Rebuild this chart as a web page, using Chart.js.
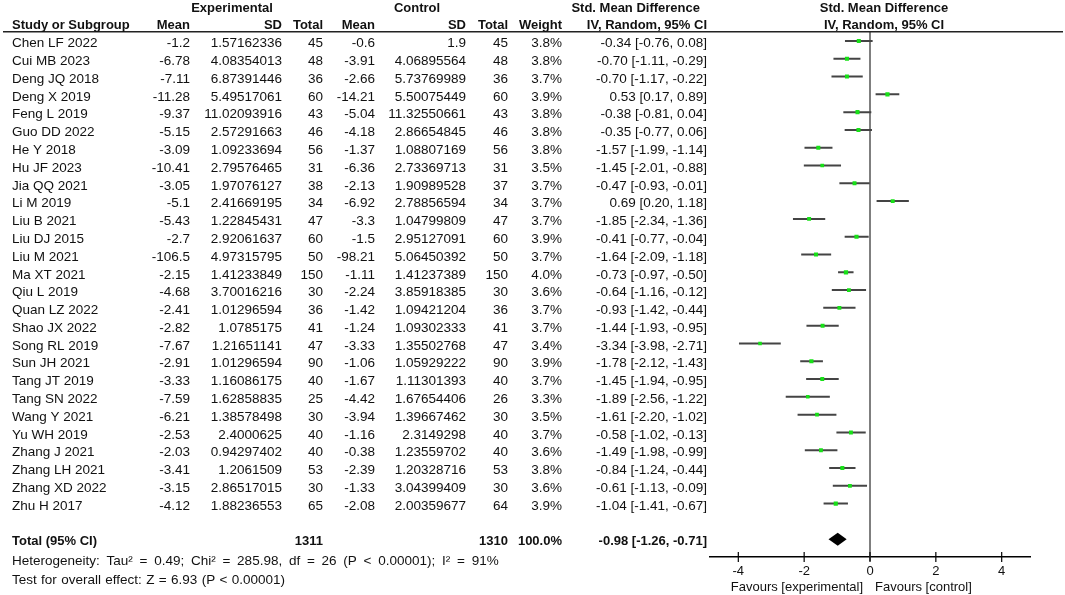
<!DOCTYPE html>
<html lang="en">
<head>
    <meta charset="UTF-8" />
    <title>Forest Plot</title>
    <script src="https://cdn.jsdelivr.net/npm/chart.js"></script>
    <style>
        body {
          margin: 0;
          background: #fff;
        }
        #wrap {
          width: 1065px;
          height: 595px;
        }
    </style>
</head>
<body>

<div id="wrap">
    <canvas id="forest" width="1065" height="595"></canvas>
</div>

<script>
    const studies = ['Chen LF 2022', 'Cui MB 2023', 'Deng JQ 2018', 'Deng X 2019', 'Feng L 2019', 'Guo DD 2022',
      'He Y 2018', 'Hu JF 2023', 'Jia QQ 2021', 'Li M 2019', 'Liu B 2021', 'Liu DJ 2015', 'Liu M 2021',
      'Ma XT 2021', 'Qiu L 2019', 'Quan LZ 2022', 'Shao JX 2022', 'Song RL 2019', 'Sun JH 2021',
      'Tang JT 2019', 'Tang SN 2022', 'Wang Y 2021', 'Yu WH 2019', 'Zhang J 2021', 'Zhang LH 2021',
      'Zhang XD 2022', 'Zhu H 2017'];

    const expMean = [-1.2, -6.78, -7.11, -11.28, -9.37, -5.15, -3.09, -10.41, -3.05, -5.1, -5.43, -2.7, -106.5,
      -2.15, -4.68, -2.41, -2.82, -7.67, -2.91, -3.33, -7.59, -6.21, -2.53, -2.03, -3.41, -3.15, -4.12];
    const expSD = [1.57162336, 4.08354013, 6.87391446, 5.49517061, 11.02093916, 2.57291663, 1.09233694,
      2.79576465, 1.97076127, 2.41669195, 1.22845431, 2.92061637, 4.97315795, 1.41233849, 3.70016216,
      1.01296594, 1.0785175, 1.21651141, 1.01296594, 1.16086175, 1.62858835, 1.38578498, 2.4000625,
      0.94297402, 1.2061509, 2.86517015, 1.88236553];
    const expN = [45, 48, 36, 60, 43, 46, 56, 31, 38, 34, 47, 60, 50, 150, 30, 36, 41, 47, 90, 40, 25, 30, 40, 40, 53, 30, 65];

    const ctlMean = [-0.6, -3.91, -2.66, -14.21, -5.04, -4.18, -1.37, -6.36, -2.13, -6.92, -3.3, -1.5, -98.21,
      -1.11, -2.24, -1.42, -1.24, -3.33, -1.06, -1.67, -4.42, -3.94, -1.16, -0.38, -2.39, -1.33, -2.08];
    const ctlSD = [1.9, 4.06895564, 5.73769989, 5.50075449, 11.32550661, 2.86654845, 1.08807169, 2.73369713,
      1.90989528, 2.78856594, 1.04799809, 2.95127091, 5.06450392, 1.41237389, 3.85918385, 1.09421204,
      1.09302333, 1.35502768, 1.05929222, 1.11301393, 1.67654406, 1.39667462, 2.3149298, 1.23559702,
      1.20328716, 3.04399409, 2.00359677];
    const ctlN = [45, 48, 36, 60, 43, 46, 56, 31, 37, 34, 47, 60, 50, 150, 30, 36, 41, 47, 90, 40, 26, 30, 40, 40, 53, 30, 64];

    const weight = [3.8, 3.8, 3.7, 3.9, 3.8, 3.8, 3.8, 3.5, 3.7, 3.7, 3.7, 3.9, 3.7, 4.0, 3.6, 3.7, 3.7, 3.4,
      3.9, 3.7, 3.3, 3.5, 3.7, 3.6, 3.8, 3.6, 3.9];
    const smd = [-0.34, -0.70, -0.70, 0.53, -0.38, -0.35, -1.57, -1.45, -0.47, 0.69, -1.85, -0.41, -1.64,
      -0.73, -0.64, -0.93, -1.44, -3.34, -1.78, -1.45, -1.89, -1.61, -0.58, -1.49, -0.84, -0.61, -1.04];
    const ciLow = [-0.76, -1.11, -1.17, 0.17, -0.81, -0.77, -1.99, -2.01, -0.93, 0.20, -2.34, -0.77, -2.09,
      -0.97, -1.16, -1.42, -1.93, -3.98, -2.12, -1.94, -2.56, -2.20, -1.02, -1.98, -1.24, -1.13, -1.41];
    const ciHigh = [0.08, -0.29, -0.22, 0.89, 0.04, 0.06, -1.14, -0.88, -0.01, 1.18, -1.36, -0.04, -1.18,
      -0.50, -0.12, -0.44, -0.95, -2.71, -1.43, -0.95, -1.22, -1.02, -0.13, -0.99, -0.44, -0.09, -0.67];

    // pooled result
    const totalN = [1311, 1310];
    const totalWeight = 100.0;
    const totalSmd = [-0.98, -1.26, -0.71]; // estimate, low, high
    const heterogeneity = 'Heterogeneity: Tau\u00b2 = 0.49; Chi\u00b2 = 285.98, df = 26 (P < 0.00001); I\u00b2 = 91%';
    const overallEffect = 'Test for overall effect: Z = 6.93 (P < 0.00001)';

    const xTicks = [-4, -2, 0, 2, 4];
    const totalRow = studies.length + 1;

    const FONT = '"Liberation Sans", Arial, sans-serif';

    function fmt2(v) {
      return v.toFixed(2);
    }

    function ciText(est, lo, hi) {
      return fmt2(est) + ' [' + fmt2(lo) + ', ' + fmt2(hi) + ']';
    }

    // one dataset per confidence interval
    const ciSets = studies.map((s, i) => ({
      type: 'line',
      data: [{ x: ciLow[i], y: i }, { x: ciHigh[i], y: i }],
      borderColor: '#444',
      borderWidth: 2,
      pointRadius: 0,
      showLine: true,
      order: 2
    }));

    const pointSet = {
      type: 'scatter',
      data: studies.map((s, i) => ({ x: smd[i], y: i })),
      pointStyle: 'rect',
      pointRadius: weight.map(w => w * 0.75),
      backgroundColor: '#18e018',
      borderColor: '#18e018',
      borderWidth: 0,
      order: 1
    };

    const forestPlugin = {
      id: 'forestTable',
      beforeDatasetsDraw(chart) {
        const { ctx, chartArea, scales } = chart;
        const x0 = scales.x.getPixelForValue(0);
        ctx.save();
        ctx.strokeStyle = '#555';
        ctx.lineWidth = 1.5;
        ctx.beginPath();
        ctx.moveTo(x0, chartArea.top);
        ctx.lineTo(x0, chartArea.bottom + 4);
        ctx.stroke();
        ctx.restore();
      },
      afterDraw(chart) {
        const { ctx, chartArea, scales } = chart;
        const xs = scales.x, ys = scales.y;
        ctx.save();

        // header rule
        ctx.strokeStyle = '#222';
        ctx.lineWidth = 1.5;
        ctx.beginPath();
        ctx.moveTo(3, chartArea.top);
        ctx.lineTo(1063, chartArea.top);
        ctx.stroke();

        // x tick marks crossing the axis
        ctx.strokeStyle = '#000';
        ctx.lineWidth = 1.2;
        xTicks.forEach(v => {
          const px = xs.getPixelForValue(v);
          ctx.beginPath();
          ctx.moveTo(px, chartArea.bottom - 5);
          ctx.lineTo(px, chartArea.bottom + 5);
          ctx.stroke();
        });

        // diamond for the pooled estimate
        const dy = ys.getPixelForValue(totalRow);
        ctx.fillStyle = '#000';
        ctx.beginPath();
        ctx.moveTo(xs.getPixelForValue(totalSmd[1]), dy);
        ctx.lineTo(xs.getPixelForValue(totalSmd[0]), dy - 6.5);
        ctx.lineTo(xs.getPixelForValue(totalSmd[2]), dy);
        ctx.lineTo(xs.getPixelForValue(totalSmd[0]), dy + 6.5);
        ctx.closePath();
        ctx.fill();

        ctx.fillStyle = '#111';
        ctx.textBaseline = 'middle';

        const text = (t, x, y, align, bold, size) => {
          ctx.font = (bold ? 'bold ' : '') + (size || 13.5) + 'px ' + FONT;
          ctx.textAlign = align;
          ctx.fillText(t, x, y);
        };

        // headers
        text('Experimental', 232, 8, 'center', true, 13);
        text('Control', 417, 8, 'center', true, 13);
        text('Std. Mean Difference', 700, 8, 'right', true, 13);
        text('Std. Mean Difference', 884, 8, 'center', true, 13);
        text('Study or Subgroup', 12, 25, 'left', true, 13);
        text('Mean', 190, 25, 'right', true, 13);
        text('SD', 282, 25, 'right', true, 13);
        text('Total', 323, 25, 'right', true, 13);
        text('Mean', 375, 25, 'right', true, 13);
        text('SD', 466, 25, 'right', true, 13);
        text('Total', 508, 25, 'right', true, 13);
        text('Weight', 562, 25, 'right', true, 13);
        text('IV, Random, 95% CI', 707, 25, 'right', true, 13);
        text('IV, Random, 95% CI', 884, 25, 'center', true, 13);

        // study rows
        studies.forEach((s, i) => {
          const y = ys.getPixelForValue(i) + 2.5;
          text(s, 12, y, 'left');
          text(String(expMean[i]), 190, y, 'right');
          text(String(expSD[i]), 282, y, 'right');
          text(String(expN[i]), 323, y, 'right');
          text(String(ctlMean[i]), 375, y, 'right');
          text(String(ctlSD[i]), 466, y, 'right');
          text(String(ctlN[i]), 508, y, 'right');
          text(weight[i].toFixed(1) + '%', 562, y, 'right');
          text(ciText(smd[i], ciLow[i], ciHigh[i]), 707, y, 'right');
        });

        // total row
        const ty = ys.getPixelForValue(totalRow) + 2.5;
        text('Total (95% CI)', 12, ty, 'left', true, 13);
        text(String(totalN[0]), 323, ty, 'right', true, 13);
        text(String(totalN[1]), 508, ty, 'right', true, 13);
        text(totalWeight.toFixed(1) + '%', 562, ty, 'right', true, 13);
        text(ciText(totalSmd[0], totalSmd[1], totalSmd[2]), 707, ty, 'right', true, 13);

        // the summary lines are set loosely in the original
        ctx.wordSpacing = '3px';
        text(heterogeneity, 12, 561, 'left', false, 13.5);
        ctx.wordSpacing = '0.6px';
        text(overallEffect, 12, 580, 'left', false, 13.5);
        ctx.wordSpacing = '0px';

        text('Favours [experimental]', 863, 587, 'right', false, 13);
        text('Favours [control]', 875, 587, 'left', false, 13);

        ctx.restore();
      }
    };

    const ctx = document.getElementById('forest').getContext('2d');
    new Chart(ctx, {
      type: 'scatter',
      data: { datasets: [...ciSets, pointSet] },
      options: {
        responsive: false,
        animation: false,
        layout: { padding: { left: 710, right: 35, top: 31.7, bottom: 0 } },
        plugins: {
          legend: { display: false },
          tooltip: { enabled: false }
        },
        scales: {
          x: {
            type: 'linear',
            min: -4.86,
            max: 4.86,
            afterBuildTicks: scale => { scale.ticks = xTicks.map(v => ({ value: v })); },
            afterFit: scale => { scale.height = 38; },
            grid: { display: false, drawTicks: false },
            border: { display: true, color: '#000', width: 1.5 },
            ticks: {
              color: '#111',
              padding: 7,
              font: { family: FONT, size: 13 }
            }
          },
          y: {
            type: 'linear',
            display: false,
            reverse: true,
            min: -0.52,
            max: 29.0
          }
        }
      },
      plugins: [forestPlugin]
    });
</script>
</body>
</html>
